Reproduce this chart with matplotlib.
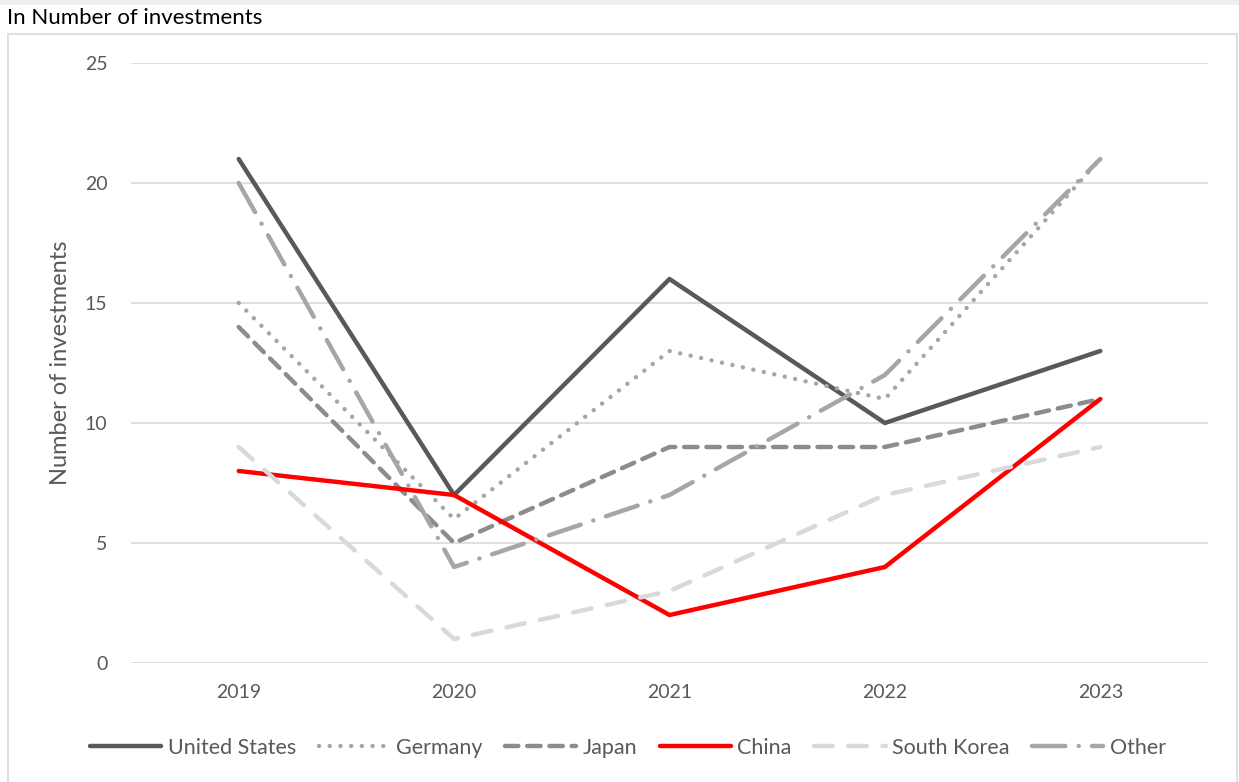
import matplotlib
matplotlib.use("Agg")
import matplotlib.pyplot as plt
from matplotlib.patches import Rectangle

plt.rcParams["font.family"] = ["Lato", "DejaVu Sans"]

years = ["2019", "2020", "2021", "2022", "2023"]
united_states = [21, 7, 16, 10, 13]
germany = [15, 6, 13, 11, 21]
japan = [14, 5, 9, 9, 11]
china = [8, 7, 2, 4, 11]
south_korea = [9, 1, 3, 7, 9]
other = [20, 4, 7, 12, 21]

TEXT = "#595959"

# (label, values, color, dashes) - dashes are in linewidth units
series = [
    ("United States", united_states, "#595959", None),
    ("Germany", germany, "#a6a6a6", (0.01, 2.4)),
    ("Japan", japan, "#8c8c8c", (3.0, 2.0)),
    ("China", china, "#ff0000", None),
    ("South Korea", south_korea, "#d9d9d9", (4.2, 3.5)),
    ("Other", other, "#a6a6a6", (7.5, 3.0, 0.01, 3.0)),
]

fig = plt.figure(figsize=(12.39, 7.82), dpi=100)

# outer frame and top strip
fig.patches.append(Rectangle((0, 0.994), 1, 0.006, transform=fig.transFigure,
                             facecolor="#efefef", edgecolor="none"))
fig.patches.append(Rectangle((8 / 1239, -0.01), 1229 / 1239, (782 - 34) / 782 + 0.01,
                             transform=fig.transFigure, facecolor="none",
                             edgecolor="#d9d9d9", linewidth=1.2))
fig.text(7 / 1239, 1 - 18 / 782, "In Number of investments", ha="left", va="center",
         fontsize=16, color="#000000")

ax = fig.add_axes([131 / 1239, 119 / 782, 1077 / 1239, 600 / 782])
x = range(len(years))
for label, vals, color, dashes in series:
    line, = ax.plot(x, vals, color=color, linewidth=3.2, label=label,
                    solid_capstyle="round", dash_capstyle="round",
                    solid_joinstyle="round", dash_joinstyle="round")
    if dashes is not None:
        line.set_dashes(dashes)

ax.set_xlim(-0.5, len(years) - 0.5)
ax.set_ylim(0, 25)
ax.set_yticks([0, 5, 10, 15, 20, 25])
ax.set_xticks(list(x))
ax.set_xticklabels(years)
ax.grid(axis="y", color="#d9d9d9", linewidth=1.2)
ax.set_axisbelow(True)
for spine in ax.spines.values():
    spine.set_visible(False)
ax.tick_params(axis="both", length=0, labelsize=14, labelcolor=TEXT)
ax.tick_params(axis="y", pad=17)
ax.tick_params(axis="x", pad=15)
ax.set_ylabel("Number of investments", fontsize=17, color=TEXT, labelpad=10)

handles, labels = ax.get_legend_handles_labels()
fig.legend(handles, labels, loc="center", bbox_to_anchor=(628 / 1239, 1 - 748 / 782),
           ncol=6, frameon=False, fontsize=15.5, handlelength=3.3,
           handletextpad=0.3, columnspacing=1.05, labelcolor=TEXT)

fig.savefig("out.png", dpi=100)
